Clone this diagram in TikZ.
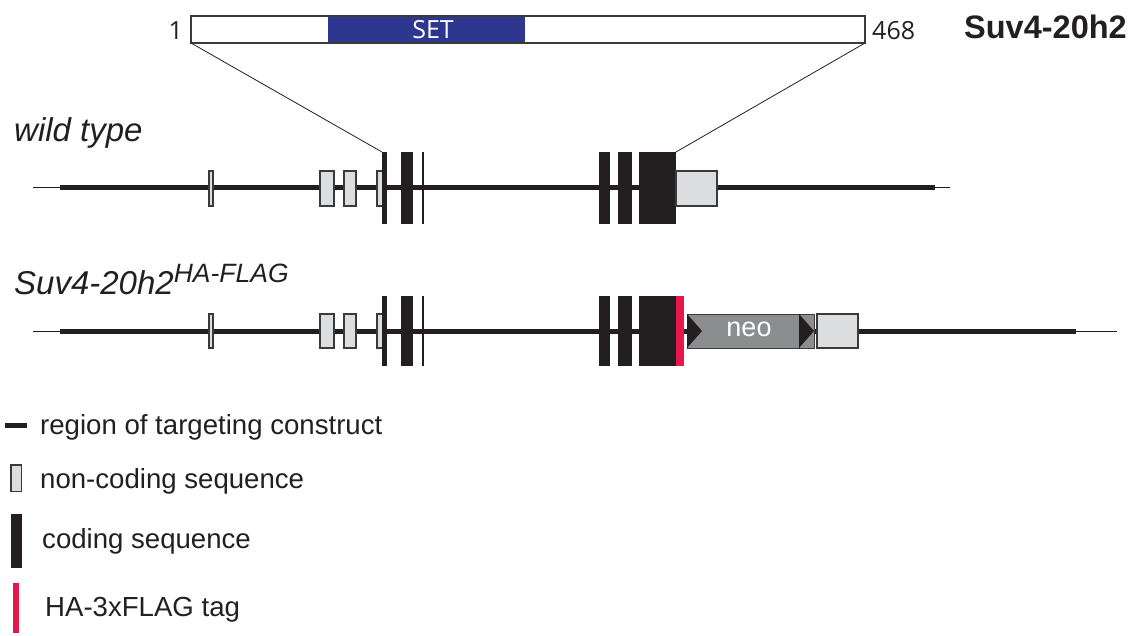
\documentclass[tikz,border=0pt]{standalone}
\usepackage{fontspec}
\setmainfont{Liberation Sans}
\newfontfamily\numfont{Open Sans}
\definecolor{exon}{HTML}{231F20}
\definecolor{ncgray}{HTML}{DCDDDE}
\definecolor{edge}{HTML}{3A3A3A}
\definecolor{tagred}{HTML}{E8174B}
\definecolor{setblue}{HTML}{2E3790}
\definecolor{neogray}{HTML}{8C8D8F}
\newcommand\fs[1]{\fontsize{#1}{#1}\selectfont}
\begin{document}
\begin{tikzpicture}[x=1pt,y=-1pt,
  axisline/.style={line width=5pt, color=exon},
  flank/.style={line width=1pt, color=exon},
  nc/.style={fill=ncgray, draw=edge, line width=1.2pt},
  cds/.style={fill=exon},
  tagbox/.style={fill=tagred},
  zoomline/.style={line width=0.8pt, color=exon},
  lbl/.style={inner sep=0pt, anchor=base west, text=exon},
]
\useasboundingbox (0,0) rectangle (1130,635);

% ---------- protein ----------
\fill[white] (191,16) rectangle (865,43);
\fill[setblue] (328,17) rectangle (525,42);
\node[inner sep=0pt, text=white, font=\numfont\fs{25}] (set) at (433,30) {SET};
\draw[line width=2pt, draw=edge] (191,16) coordinate (pl) rectangle (865,43) coordinate (pr);
\coordinate (pbl) at (191,43);
\coordinate (pbr) at (865,43);
\node[inner sep=0pt, anchor=east, font=\numfont\fs{25}, text=exon] (aa1) at (183,31) {1};
\node[inner sep=0pt, anchor=west, font=\numfont\fs{25}, text=exon] (aa468) at (872,31) {468};
\node[lbl, font=\bfseries\fs{32.5}] (gene) at (964,38) {Suv4-20h2};

% ---------- row labels ----------
\node[lbl, font=\itshape\fs{33}] (wt) at (14,141) {wild type};
\node[lbl, font=\itshape\fs{33}] (ki) at (14,294) {Suv4-20h2\raisebox{0.36em}{\fs{26.5}HA-FLAG}};

% ---------- wild type locus ----------
\coordinate (w0) at (33,187.5);
\coordinate (w1) at (60,187.5);
\coordinate (w2) at (935,187.5);
\coordinate (w3) at (950,187.5);
\draw[flank] (w0) -- (w1);
\draw[axisline] (w1) -- (w2);
\draw[flank] (w2) -- (w3);
\draw[nc] (209,171) rectangle (213,206);
\draw[nc] (320,171) rectangle (334,206);
\draw[nc] (344,171) rectangle (356,206);
\draw[nc] (377,171) rectangle (383,206);
\fill[cds] (382,152) coordinate (wex1) rectangle (386.5,224);
\fill[cds] (401,152) rectangle (413,224);
\fill[cds] (421.5,152) rectangle (424,224);
\fill[cds] (599,152) rectangle (610,224);
\fill[cds] (618,152) rectangle (632,224);
\fill[cds] (639,152) rectangle (676,224);
\coordinate (wexC) at (676,152);
\draw[nc] (676,171) rectangle (717,206);

% zoom lines from protein to coding region
\draw[zoomline] (pbl) -- (wex1);
\draw[zoomline] (pbr) -- (wexC);

% ---------- knock-in locus ----------
\coordinate (k0) at (33,331);
\coordinate (k1) at (60,331);
\coordinate (k2) at (1076,331);
\coordinate (k3) at (1117,331);
\draw[flank] (k0) -- (k1);
\draw[axisline] (k1) -- (k2);
\draw[flank] (k2) -- (k3);
\draw[nc] (209,314) rectangle (213,348);
\draw[nc] (320,314) rectangle (334,348);
\draw[nc] (344,314) rectangle (356,348);
\draw[nc] (377,314) rectangle (383,348);
\fill[cds] (382,296) rectangle (386.5,366);
\fill[cds] (401,296) rectangle (413,366);
\fill[cds] (421.5,296) rectangle (424,366);
\fill[cds] (599,296) rectangle (610,366);
\fill[cds] (618,296) rectangle (632,366);
\fill[cds] (639,296) rectangle (676,366);
\fill[tagbox] (676,296) rectangle (684,366);
% neo cassette
\draw[fill=neogray, draw=edge, line width=1pt] (687,314) rectangle (799,348);
\fill[exon] (687,314) -- (702,331) -- (687,348) -- cycle;
\draw[fill=neogray, draw=edge, line width=1pt] (799,314) rectangle (814,348);
\fill[exon] (799,314) -- (814,331) -- (799,348) -- cycle;
\node[inner sep=0pt, text=white, font=\fs{27}] (neo) at (749,329) {neo};
\draw[nc] (817,314) rectangle (858,348);

% ---------- legend ----------
\draw[line width=5pt, color=exon] (5,425.5) -- (27,425.5);
\node[lbl, font=\fs{27.6}] (l1) at (40,434) {region of targeting construct};
\draw[nc] (11,465) rectangle (21.5,491.5);
\node[lbl, font=\fs{27.6}] (l2) at (40,488) {non-coding sequence};
\fill[cds] (11.3,514) rectangle (21.7,568);
\node[lbl, font=\fs{27.6}] (l3) at (42,548) {coding sequence};
\fill[tagbox] (13,583) rectangle (19,633);
\node[lbl, font=\fs{27.6}] (l4) at (45,616) {HA-3xFLAG tag};
\end{tikzpicture}
\end{document}
